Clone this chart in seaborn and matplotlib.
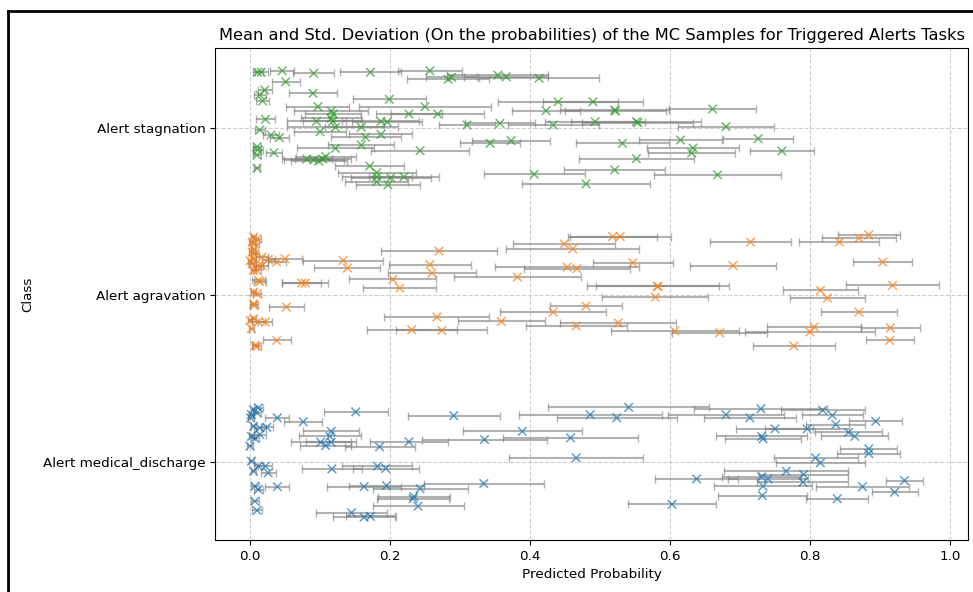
import numpy as np
import pandas as pd
import matplotlib
matplotlib.use("Agg")
import matplotlib.pyplot as plt
from matplotlib.lines import Line2D
import seaborn as sns

classes = ["Alert medical_discharge", "Alert agravation", "Alert stagnation"]

# Alert stagnation (green)
stag_mean = [0.011, 0.016, 0.046, 0.091, 0.172, 0.257, 0.051, 0.283, 0.288, 0.354, 0.366, 0.413,
             0.021, 0.014, 0.018, 0.090, 0.199, 0.440, 0.490, 0.097, 0.250, 0.116, 0.119, 0.116,
             0.227, 0.268, 0.423, 0.521, 0.522, 0.661, 0.022, 0.095, 0.118, 0.187, 0.196, 0.122,
             0.159, 0.310, 0.357, 0.433, 0.493, 0.552, 0.554, 0.680, 0.014, 0.030, 0.042, 0.100,
             0.165, 0.187, 0.343, 0.373, 0.532, 0.615, 0.726, 0.633, 0.631, 0.760, 0.552, 0.010,
             0.011, 0.010, 0.034, 0.122, 0.159, 0.243, 0.081, 0.091, 0.098, 0.104, 0.108, 0.010,
             0.171, 0.181, 0.181, 0.201, 0.220, 0.181, 0.197, 0.406, 0.521, 0.668, 0.480]
stag_std = [0.007, 0.009, 0.017, 0.029, 0.043, 0.046, 0.020, 0.059, 0.036, 0.072, 0.060, 0.086,
            0.010, 0.009, 0.009, 0.034, 0.052, 0.086, 0.072, 0.045, 0.095, 0.053, 0.040, 0.043,
            0.047, 0.066, 0.049, 0.078, 0.072, 0.062, 0.014, 0.042, 0.042, 0.055, 0.050, 0.069,
            0.052, 0.040, 0.050, 0.065, 0.072, 0.093, 0.079, 0.068, 0.007, 0.011, 0.014, 0.037,
            0.050, 0.045, 0.043, 0.056, 0.066, 0.059, 0.050, 0.066, 0.062, 0.046, 0.082, 0.006,
            0.007, 0.006, 0.011, 0.055, 0.047, 0.070, 0.036, 0.043, 0.040, 0.040, 0.043, 0.004,
            0.049, 0.056, 0.050, 0.057, 0.050, 0.045, 0.046, 0.072, 0.072, 0.091, 0.092]
stag_jit = [0.334, 0.334, 0.343, 0.328, 0.334, 0.343, 0.277, 0.292, 0.304, 0.317, 0.307, 0.298,
            0.228, 0.198, 0.162, 0.208, 0.172, 0.157, 0.157, 0.128, 0.128, 0.102, 0.084, 0.058,
            0.084, 0.084, 0.104, 0.108, 0.102, 0.114, 0.052, 0.040, 0.040, 0.040, 0.036, 0.004,
            0.004, 0.018, 0.028, 0.018, 0.038, 0.038, 0.032, 0.008, -0.012, -0.042, -0.058, -0.022,
            -0.056, -0.038, -0.092, -0.076, -0.092, -0.072, -0.064, -0.120, -0.150, -0.138, -0.184, -0.112,
            -0.132, -0.162, -0.148, -0.122, -0.102, -0.136, -0.186, -0.192, -0.198, -0.186, -0.172, -0.241,
            -0.228, -0.268, -0.293, -0.299, -0.293, -0.322, -0.341, -0.277, -0.251, -0.281, -0.335]

# Alert agravation (orange)
agr_mean = [0.005, 0.010, 0.003, 0.007, 0.005, 0.003, 0.007, 0.005, 0.000, 0.017, 0.003, 0.012,
            0.017, 0.005, 0.010, 0.012, 0.014, 0.005, 0.010, 0.005, 0.006, 0.000, 0.005, 0.012,
            0.022, 0.002, 0.007, 0.010,
            0.050, 0.038, 0.026, 0.133, 0.139, 0.270, 0.257, 0.260, 0.204, 0.214, 0.074, 0.079,
            0.382, 0.449, 0.461, 0.518, 0.529, 0.453, 0.467, 0.547, 0.433, 0.480, 0.267, 0.359,
            0.466, 0.526, 0.231, 0.274, 0.052, 0.038, 0.715, 0.842, 0.870, 0.884, 0.690, 0.904,
            0.583, 0.582, 0.579, 0.815, 0.825, 0.918, 0.870, 0.607, 0.671, 0.806, 0.800, 0.915,
            0.914, 0.777]
agr_std = [0.004, 0.006, 0.004, 0.006, 0.004, 0.004, 0.006, 0.004, 0.003, 0.009, 0.004, 0.007,
           0.009, 0.004, 0.006, 0.009, 0.009, 0.004, 0.006, 0.004, 0.006, 0.003, 0.004, 0.009,
           0.010, 0.004, 0.004, 0.006,
           0.024, 0.013, 0.009, 0.057, 0.047, 0.083, 0.059, 0.063, 0.062, 0.052, 0.028, 0.033,
           0.091, 0.073, 0.095, 0.063, 0.072, 0.103, 0.076, 0.057, 0.076, 0.052, 0.075, 0.062,
           0.072, 0.083, 0.064, 0.065, 0.025, 0.020, 0.058, 0.057, 0.053, 0.044, 0.061, 0.042,
           0.101, 0.088, 0.076, 0.053, 0.053, 0.066, 0.054, 0.091, 0.068, 0.067, 0.093, 0.042,
           0.034, 0.059]
agr_jit = [0.346, 0.335, 0.316, 0.305, 0.275, 0.256, 0.246, 0.216, 0.204, 0.226, 0.186, 0.175,
           0.175, 0.146, 0.146, 0.086, 0.078, 0.016, 0.006, -0.054, -0.064, -0.154, -0.144, -0.163,
           -0.163, -0.204, -0.304, -0.310,
           0.216, 0.196, 0.211, 0.205, 0.160, 0.262, 0.181, 0.130, 0.092, 0.040, 0.070, 0.070,
           0.106, 0.305, 0.275, 0.349, 0.349, 0.166, 0.156, 0.192, -0.104, -0.068, -0.134, -0.160,
           -0.187, -0.169, -0.210, -0.214, -0.074, -0.274, 0.316, 0.316, 0.340, 0.359, 0.175, 0.196,
           0.050, 0.050, -0.014, 0.026, -0.020, 0.056, -0.104, -0.217, -0.228, -0.193, -0.223, -0.199,
           -0.274, -0.307]

# Alert medical_discharge (blue)
med_mean = [0.005, 0.012, 0.002, 0.010, 0.001, 0.005, 0.014, 0.024, 0.002, 0.007, 0.014, 0.000,
            0.002, 0.005, 0.012, 0.022, 0.026, 0.007, 0.012, 0.007, 0.010,
            0.039, 0.076, 0.151, 0.291, 0.116, 0.114, 0.101, 0.108, 0.116, 0.185, 0.227, 0.335,
            0.389, 0.458, 0.486, 0.466, 0.117, 0.182, 0.194, 0.039, 0.163, 0.195, 0.243, 0.334,
            0.233, 0.234, 0.240, 0.145, 0.163, 0.172, 0.541, 0.524, 0.730, 0.680, 0.714, 0.818,
            0.832, 0.894, 0.837, 0.750, 0.796, 0.855, 0.864, 0.731, 0.733, 0.884, 0.884, 0.808,
            0.815, 0.638, 0.766, 0.791, 0.731, 0.740, 0.790, 0.733, 0.935, 0.875, 0.921, 0.732,
            0.839, 0.603]
med_std = [0.004, 0.006, 0.004, 0.006, 0.004, 0.004, 0.009, 0.009, 0.004, 0.006, 0.009, 0.004,
           0.004, 0.004, 0.007, 0.010, 0.011, 0.006, 0.007, 0.006, 0.007,
           0.017, 0.027, 0.046, 0.066, 0.040, 0.044, 0.043, 0.036, 0.036, 0.050, 0.056, 0.090,
           0.085, 0.096, 0.102, 0.096, 0.043, 0.050, 0.047, 0.017, 0.053, 0.054, 0.068, 0.086,
           0.051, 0.051, 0.065, 0.051, 0.045, 0.035, 0.115, 0.086, 0.095, 0.083, 0.066, 0.060,
           0.044, 0.038, 0.042, 0.055, 0.060, 0.048, 0.048, 0.065, 0.054, 0.041, 0.045, 0.060,
           0.064, 0.059, 0.089, 0.064, 0.056, 0.057, 0.065, 0.070, 0.026, 0.067, 0.033, 0.064,
           0.044, 0.063]
med_jit = [0.311, 0.322, 0.281, 0.292, 0.262, 0.211, 0.202, 0.205, 0.151, 0.140, 0.162, 0.092,
           0.002, -0.058, -0.028, -0.028, -0.068, -0.148, -0.168, -0.238, -0.293,
           0.262, 0.238, 0.298, 0.275, 0.181, 0.151, 0.116, 0.096, 0.116, 0.088, 0.118, 0.132,
           0.181, 0.142, 0.281, 0.022, -0.044, -0.028, -0.042, -0.151, -0.151, -0.144, -0.163, -0.132,
           -0.223, -0.210, -0.268, -0.307, -0.334, -0.329, 0.325, 0.262, 0.316, 0.281, 0.262, 0.307,
           0.277, 0.241, 0.222, 0.196, 0.196, 0.175, 0.151, 0.151, 0.136, 0.076, 0.048, 0.022,
           -0.008, -0.104, -0.058, -0.078, -0.092, -0.104, -0.124, -0.148, -0.114, -0.151, -0.184, -0.204,
           -0.223, -0.257]

colors = ["#1f77b4", "#ff7f0e", "#2ca02c"]

frames = []
for i, (m, s, j) in enumerate([(med_mean, med_std, med_jit),
                               (agr_mean, agr_std, agr_jit),
                               (stag_mean, stag_std, stag_jit)]):
    assert len(m) == len(s) == len(j), (i, len(m), len(s), len(j))
    frames.append(pd.DataFrame({"mean": m, "std": s, "y": np.array(j) + i,
                                "Class": classes[i]}))
df = pd.concat(frames, ignore_index=True)

fig = plt.figure(figsize=(9.73, 5.92), dpi=100)
ax = fig.add_axes([0.221, 0.088, 0.774, 0.831])

ax.errorbar(df["mean"], df["y"], xerr=df["std"], fmt="none", ecolor="gray",
            alpha=0.6, capsize=3, elinewidth=1.5, zorder=2)
sns.scatterplot(data=df, x="mean", y="y", hue="Class", palette=colors,
                hue_order=classes, marker="x", s=38, linewidth=1.1, alpha=0.7,
                legend=False, ax=ax, zorder=3)

ax.set_yticks(range(len(classes)))
ax.set_yticklabels(classes)
ax.set_xticks([0.0, 0.2, 0.4, 0.6, 0.8, 1.0])
ax.tick_params(labelsize=9.7)
ax.set_xlim(-0.05, 1.026)
ax.set_ylim(-0.47, 2.48)
ax.grid(True, linestyle="--", alpha=0.6)
ax.set_axisbelow(True)
ax.set_xlabel("Predicted Probability", fontsize=9.7)
ax.set_ylabel("Class", fontsize=9.7, labelpad=6)
ax.set_title("Mean and Std. Deviation (On the probabilities) of the MC Samples for Triggered Alerts Tasks",
             fontsize=11.7)

# black frame from the screenshot
fig.add_artist(Line2D([0.0087, 0.0087], [0, 0.9814], transform=fig.transFigure, color="black", lw=2))
fig.add_artist(Line2D([0.0087, 1], [0.9814, 0.9814], transform=fig.transFigure, color="black", lw=2))

fig.savefig("out.png", dpi=100)
